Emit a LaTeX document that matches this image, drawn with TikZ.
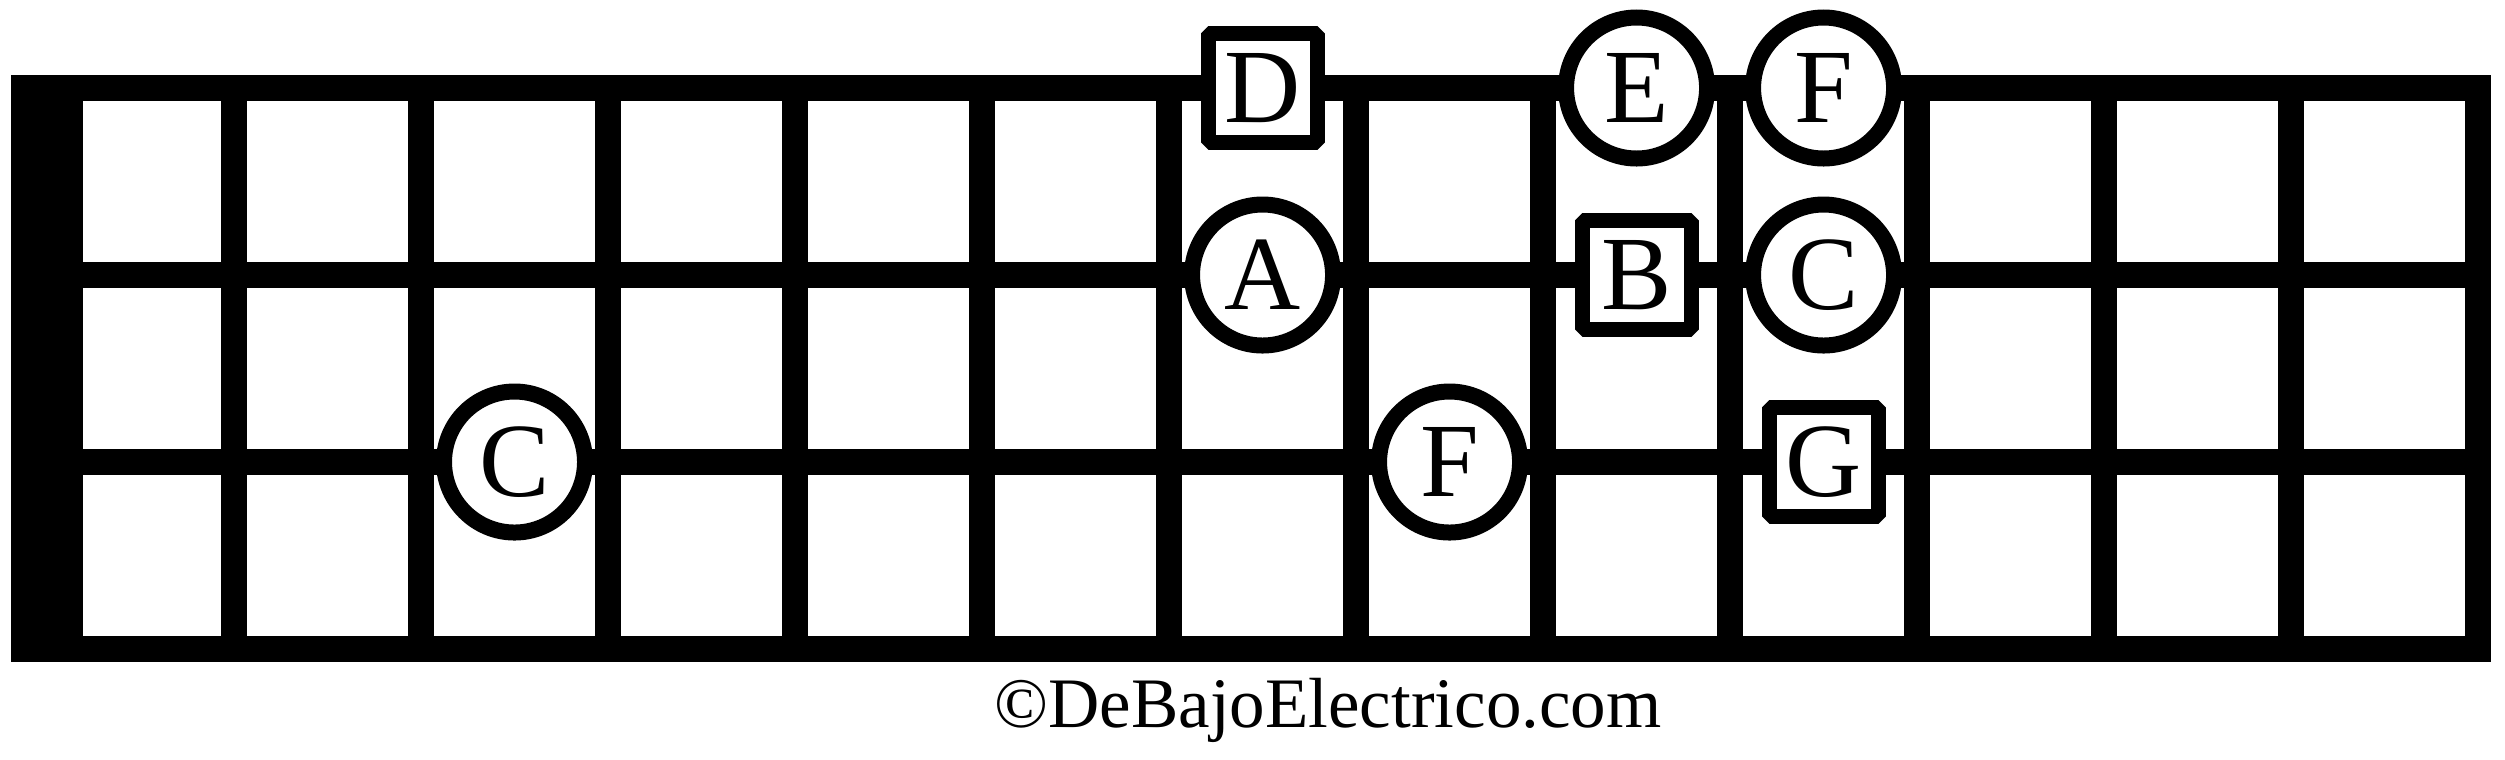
\documentclass[tikz,border=0pt]{standalone}
\usepackage{fontspec}
\setmainfont{Liberation Serif}

\tikzset{
    strline/.style={line width=0.26cm, line cap=rect},
    fretline/.style={line width=0.26cm, line cap=rect},
    notecirc/.style={circle, draw, fill=white, line width=0.16cm, minimum size=1.41cm, inner sep=0pt, font=\fontsize{30}{31}\selectfont},
    notebox/.style={rectangle, draw, fill=white, line width=0.15cm, line join=bevel, minimum size=1.09cm, inner sep=0pt, font=\fontsize{30}{31}\selectfont}
}

\begin{document}
\begin{tikzpicture}[x=1.87cm, y=1.87cm]
    \useasboundingbox (-0.2513,-0.5882) rectangle (13.144,3.4706);
    \foreach \s in {0,...,3}
        \draw[strline] (0,\s) -- (13,\s);
    \foreach \f in {1,...,13}
        \draw[fretline] (\f,0) -- (\f,3);
    \fill (-0.1925,-0.0695) rectangle (0.1925,3.0695);

    \node[notebox]  at (6.5,3) (d1) {D};
    \node[notecirc] at (8.5,3) (e1) {E};
    \node[notecirc] at (9.5,3) (f1) {F};
    \node[notecirc] at (6.5,2) (a2) {A};
    \node[notebox]  at (8.5,2) (b2) {B};
    \node[notecirc] at (9.5,2) (c2) {C};
    \node[notecirc] at (2.5,1) (c3) {C};
    \node[notecirc] at (7.5,1) (f3) {F};
    \node[notebox]  at (9.5,1) (g3) {G};
    \node[anchor=base, font=\fontsize{20.2}{22}\selectfont] at (6.85,-0.422) (credit) {©DeBajoElectrico.com};
\end{tikzpicture}
\end{document}
